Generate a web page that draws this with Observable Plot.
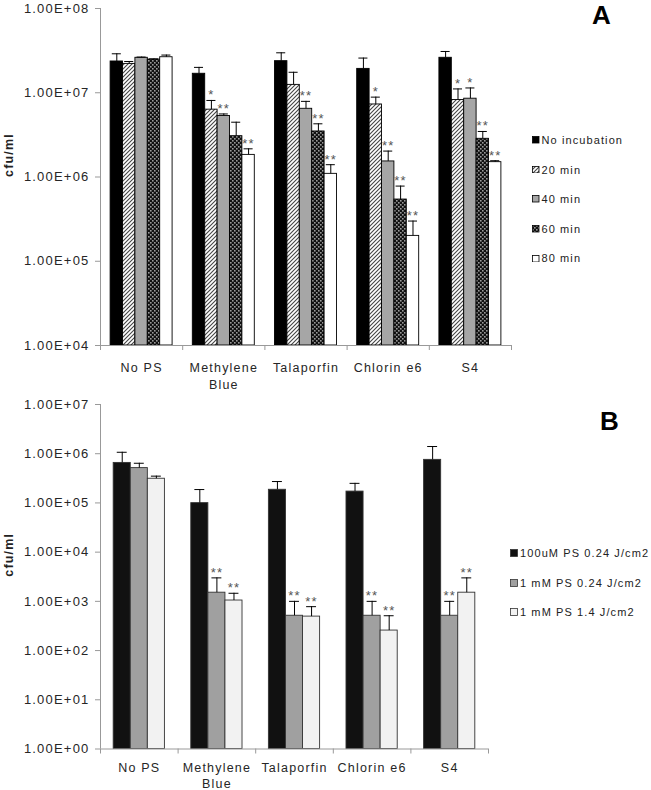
<!DOCTYPE html>
<html><head><meta charset="utf-8">
<script src="https://cdn.jsdelivr.net/npm/d3@7"></script>
<script src="https://cdn.jsdelivr.net/npm/@observablehq/plot@0.6"></script>
<style>
body{margin:0;background:#fff;font-family:"Liberation Sans",Arial,sans-serif;}
.panel{position:relative;width:651px;overflow:hidden}
.panel svg.chart{position:absolute;left:0;top:0}
g[aria-label="y-axis tick"], g[aria-label="x-axis tick"]{stroke:#999}
.item{position:absolute;height:14px;display:flex;align-items:center;white-space:nowrap;font-size:11px;letter-spacing:1.1px;color:#222}
.item svg{margin-right:2px;flex:none}
.letter{position:absolute;font-weight:bold;font-size:26px;line-height:1;color:#000}
</style></head><body>
<svg width="0" height="0" style="position:absolute"><defs>
<pattern id="hatchA" patternUnits="userSpaceOnUse" width="4" height="4"><rect width="4" height="4" fill="#fff"/><path d="M-1,1 l2,-2 M0,4 l4,-4 M3,5 l2,-2" stroke="#444" stroke-width="1.1"/></pattern>
<pattern id="dotsA" patternUnits="userSpaceOnUse" width="4" height="4"><rect width="4" height="4" fill="#111"/><rect x="0" y="0" width="1.6" height="1.6" fill="#9a9a9a"/><rect x="2" y="2" width="1.6" height="1.6" fill="#9a9a9a"/></pattern>
</defs></svg>
<div id="pa" class="panel" style="height:392px"></div>
<div id="pb" class="panel" style="height:398px"></div>
<script>
// ---- shared categories ----
const categories = ["No PS", "Methylene\nBlue", "Talaporfin", "Chlorin e6", "S4"];

// ---- Panel A data ----
const seriesA = ["No incubation", "20 min", "40 min", "60 min", "80 min"];
const noIncubation = [2.35e7, 1.68e7, 2.37e7, 1.92e7, 2.6e7];
const min20 = [2.2e7, 6.3e6, 1.24e7, 7.26e6, 8.2e6];
const min40 = [2.6e7, 5.3e6, 6.45e6, 1.53e6, 8.5e6];
const min60 = [2.48e7, 3.05e6, 3.47e6, 5.4e5, 2.84e6];
const min80 = [2.64e7, 1.83e6, 1.09e6, 2.0e5, 1.5e6];
const errNoIncubation = [2.9e7, 2.0e7, 2.98e7, 2.58e7, 3.09e7];
const err20 = [2.35e7, 8.1e6, 1.75e7, 8.87e6, 1.11e7];
const err40 = [2.65e7, 5.6e6, 7.9e6, 2.03e6, 1.14e7];
const err60 = [2.52e7, 4.47e6, 4.28e6, 7.8e5, 3.47e6];
const err80 = [2.8e7, 2.16e6, 1.4e6, 3.0e5, 1.56e6];
const sigNoIncubation = ["", "", "", "", ""];
const sig20 = ["", "*", "", "*", "*"];
const sig40 = ["", "**", "**", "**", "*"];
const sig60 = ["", "", "**", "**", "**"];
const sig80 = ["", "**", "**", "**", "**"];
const yTicksA = [1e4, 1e5, 1e6, 1e7, 1e8];

// ---- Panel B data ----
const seriesB = ["100uM  PS 0.24  J/cm2", "1 mM  PS 0.24  J/cm2", "1 mM  PS 1.4  J/cm2"];
const ps100uM024 = [6.5e5, 9.9e4, 1.85e5, 1.7e5, 7.5e5];
const ps1mM024 = [5.1e5, 1.5e3, 510, 510, 510];
const ps1mM14 = [3.1e5, 1.04e3, 490, 255, 1.5e3];
const errPs100uM024 = [1.07e6, 1.87e5, 2.72e5, 2.5e5, 1.4e6];
const errPs1mM024 = [6.4e5, 3.0e3, 1.0e3, 1.0e3, 1.0e3];
const errPs1mM14 = [3.5e5, 1.46e3, 780, 510, 3.0e3];
const sigPs100uM024 = ["", "", "", "", ""];
const sigPs1mM024 = ["", "**", "**", "**", "**"];
const sigPs1mM14 = ["", "**", "**", "**", "**"];
const yTicksB = [1, 10, 100, 1e3, 1e4, 1e5, 1e6, 1e7];

// ---- helpers ----
const fmt = d => "1.00E+" + String(Math.round(Math.log10(d))).padStart(2, "0");
function buildRows(names, vals, errs, sigs, groupFrac) {
  const n = names.length, bw = groupFrac / n, pad = (1 - groupFrac) / 2;
  return categories.flatMap((c, ci) => names.map((s, si) => {
    const x1 = ci + pad + si * bw;
    return {cat: c, series: s, value: vals[si][ci], err: errs[si][ci], sig: sigs[si][ci], x1, x2: x1 + bw, xc: x1 + bw / 2};
  }));
}
const font = "'Liberation Sans', Arial, sans-serif";

function panel({rows, names, fills, stroke, height, marginTop, marginBottom, marginRight, yDomain, yTicks, cap, labelDy, lineHeight}) {
  const base = yDomain[0];
  const svg = Plot.plot({
    width: 651, height, marginLeft: 100, marginRight, marginTop, marginBottom,
    style: {fontFamily: font, fontSize: "13px", letterSpacing: "1.2px", color: "#262626", background: "transparent"},
    x: {domain: [0, categories.length]},
    y: {type: "log", domain: yDomain},
    color: {type: "ordinal", domain: names, range: fills},
    marks: [
      Plot.rect(rows, {x1: "x1", x2: "x2", y1: () => base, y2: "value", fill: "series", stroke, strokeWidth: 0.9}),
      Plot.ruleX(rows, {x: "xc", y1: "value", y2: "err", stroke: "#000", strokeWidth: 1}),
      Plot.ruleY(rows, {y: "err", x1: d => d.xc - cap, x2: d => d.xc + cap, stroke: "#000", strokeWidth: 1}),
      Plot.text(rows.filter(d => d.sig), {x: "xc", y: "err", text: "sig", lineAnchor: "bottom", dy: -1, fontSize: 13, fill: "#555"}),
      Plot.ruleX([0], {stroke: "#999"}),
      Plot.ruleY([base], {stroke: "#999"}),
      Plot.axisY({ticks: yTicks, tickFormat: fmt, tickSize: 5, tickPadding: 6, fontSize: 13}),
      Plot.axisX({ticks: d3.range(categories.length + 1), tickFormat: () => "", tickSize: 5}),
      Plot.text(categories, {x: (d, i) => i + 0.5, frameAnchor: "bottom", dy: labelDy, lineAnchor: "top", lineHeight, fontSize: 12.5, text: d => d, fill: "#262626"}),
      Plot.text(["cfu/ml"], {frameAnchor: "left", dx: -92, rotate: -90, fontWeight: "bold", fontSize: 12.5, text: d => d, fill: "#222"})
    ]
  });
  svg.classList.add("chart");
  return svg;
}

function legend(container, names, fills, stroke, left, firstCenter, step, size) {
  names.forEach((n, i) => {
    const div = document.createElement("div");
    div.className = "item";
    div.style.left = left + "px";
    div.style.top = (firstCenter + i * step - 7) + "px";
    div.innerHTML = `<svg width="${size + 1}" height="${size + 1}"><rect x="0.5" y="0.5" width="${size}" height="${size}" fill="${fills[i]}" stroke="${stroke}" stroke-width="0.8"/></svg><span></span>`;
    div.querySelector("span").textContent = n;
    container.appendChild(div);
  });
}
function letter(container, t, left, top) {
  const d = document.createElement("div");
  d.className = "letter"; d.textContent = t;
  d.style.left = left + "px"; d.style.top = top + "px";
  container.appendChild(d);
}

// ---- Panel A ----
const fillsA = ["#000", "url(#hatchA)", "#a6a6a6", "url(#dotsA)", "#fff"];
const rowsA = buildRows(seriesA, [noIncubation, min20, min40, min60, min80],
  [errNoIncubation, err20, err40, err60, err80],
  [sigNoIncubation, sig20, sig40, sig60, sig80], 0.754);
const pa = document.getElementById("pa");
pa.appendChild(panel({rows: rowsA, names: seriesA, fills: fillsA, stroke: "#000", height: 392,
  marginTop: 8, marginBottom: 47, marginRight: 140, yDomain: [1e4, 1e8], yTicks: yTicksA,
  cap: 0.055, labelDy: 15, lineHeight: 1.35}));
legend(pa, seriesA, fillsA, "#000", 532, 140, 29.6, 6.5);
letter(pa, "A", 592, 2);

// ---- Panel B ----
const fillsB = ["#111", "#a0a0a0", "#f2f2f2"];
const rowsB = buildRows(seriesB, [ps100uM024, ps1mM024, ps1mM14],
  [errPs100uM024, errPs1mM024, errPs1mM14],
  [sigPs100uM024, sigPs1mM024, sigPs1mM14], 0.66);
const pb = document.getElementById("pb");
pb.appendChild(panel({rows: rowsB, names: seriesB, fills: fillsB, stroke: "#333", height: 398,
  marginTop: 12, marginBottom: 41.5, marginRight: 163, yDomain: [1, 1e7], yTicks: yTicksB,
  cap: 0.064, labelDy: 11, lineHeight: 1.3}));
legend(pb, seriesB, fillsB, "#333", 510, 161.3, 29.5, 7);
letter(pb, "B", 600, 16);
</script>
</body></html>
